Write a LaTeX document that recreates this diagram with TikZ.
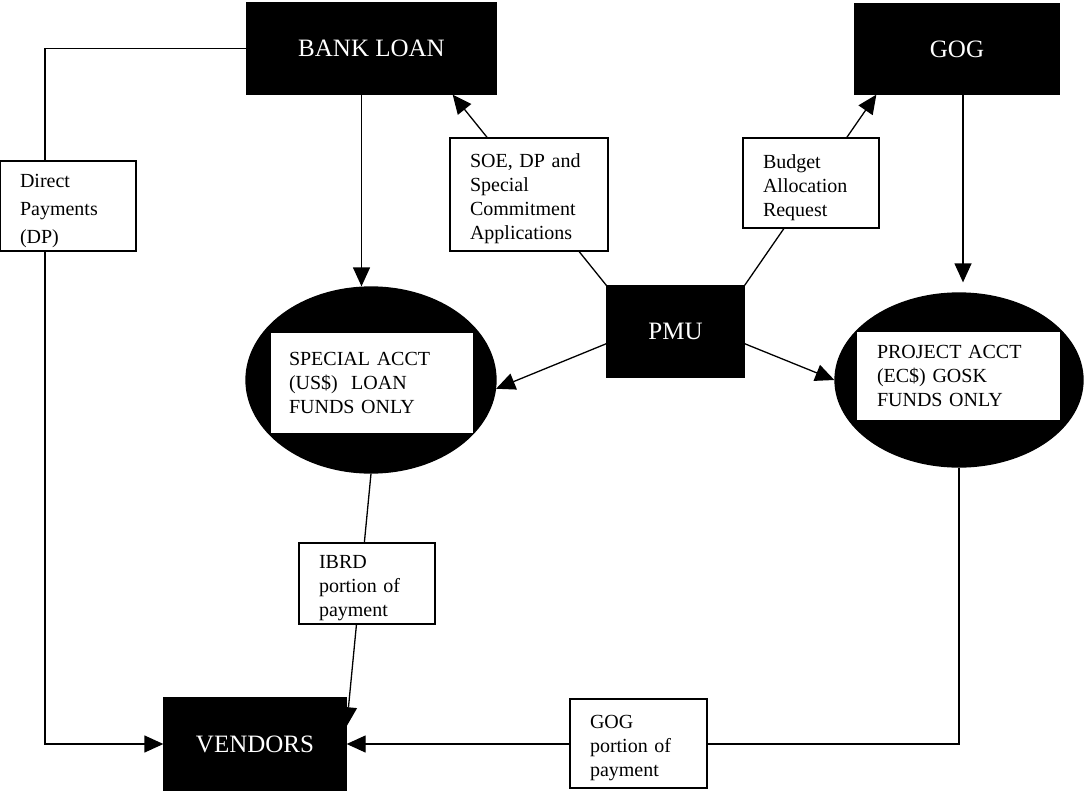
\documentclass[tikz,border=0pt]{standalone}
\usepackage{fontspec}
\setmainfont{Liberation Serif}
\usetikzlibrary{arrows.meta,shapes.geometric}

\tikzset{every picture/.style={line width=1.3pt}}
\tikzset{
  blackbox/.style={draw=black,fill=black,text=white,inner sep=0pt,font=\fontsize{25}{30}\selectfont},
  labelbox/.style={draw=black,fill=white,line width=1.5pt,align=left,inner xsep=20pt,inner ysep=0pt,
    font=\fontsize{20}{24}\selectfont,execute at begin node={\rule{0pt}{23pt}}},
  acctoval/.style={ellipse,draw=black,fill=black,inner sep=0pt},
  acctbox/.style={fill=white,align=left,inner xsep=18pt,inner ysep=0pt,font=\fontsize{20}{24}\selectfont},
  arr/.style={-{Triangle[length=19pt,width=17pt]}}
}

\begin{document}
\begin{tikzpicture}[x=1pt,y=1pt,yscale=-1,xscale=1]
\useasboundingbox (0,0) rectangle (1084,792);

%Shape: Rectangle [bank loan]
\node[blackbox, minimum width=249pt, minimum height=91pt] (bankloan) at (371.5,48.5) {BANK LOAN};
%Shape: Rectangle [gog]
\node[blackbox, minimum width=204pt, minimum height=90pt] (gog) at (957,49) {GOG};
%Shape: Rectangle [pmu]
\node[blackbox, minimum width=137pt, minimum height=91pt] (pmu) at (675.5,331.5) {PMU};
%Shape: Rectangle [vendors]
\node[blackbox, minimum width=182pt, minimum height=92pt] (vendors) at (255,744) {VENDORS};

%Shape: Ellipse [special account]
\node[acctoval, minimum width=250pt, minimum height=186pt] (spacct) at (371,380) {};
\node[acctbox, text width=166pt, minimum height=100pt] (spacctbox) at (372,383) {SPECIAL ACCT\\(US\$)\ \ LOAN\\FUNDS ONLY};
%Shape: Ellipse [project account]
\node[acctoval, minimum width=248pt, minimum height=174pt] (pjacct) at (959,380) {};
\node[acctbox, text width=163pt, inner xsep=20pt, minimum height=88pt] (pjacctbox) at (958.5,376) {PROJECT ACCT\\(EC\$) GOSK\\FUNDS ONLY};

%Straight Lines
\coordinate (dpcorner) at (45,48.5);
\draw[arr] (bankloan.west) -- (dpcorner) |- (vendors.west);
\draw[arr] ([xshift=-10pt]bankloan.south) -- ([xshift=-10pt]bankloan.south |- spacct.north);
\draw[arr] (pmu.north west) -- ([xshift=-44pt]bankloan.south east);
\draw[arr] (pmu.north east) -- ([xshift=22pt]gog.south west);
\draw[arr, shorten >=10pt] ([xshift=6pt]gog.south) -- ([xshift=6pt]gog.south |- pjacct.north);
\draw[arr] (pmu.190) -- (spacct.-4);
\draw[arr] (pmu.350) -- (pjacct.west);
\draw[arr] (spacct.south) -- (vendors.11);
\draw[arr] (pjacct.south) |- (vendors.east);

% Text Node
\node[labelbox, text width=96pt, minimum height=90pt, font=\fontsize{20}{28}\selectfont] (dp) at (68,206) {Direct\\Payments\\(DP)};
% Text Node
\node[labelbox, text width=118pt, minimum height=113pt] (soe) at (529,194.5) {SOE, DP and\\Special\\Commitment\\Applications};
% Text Node
\node[labelbox, text width=96pt, minimum height=90pt] (budget) at (811,183) {Budget\\Allocation\\Request};
% Text Node
\node[labelbox, text width=96pt, minimum height=81pt] (ibrd) at (367,583.5) {IBRD\\portion of\\payment};
% Text Node
\node[labelbox, text width=97pt, minimum height=89pt] (gogpay) at (638.5,743.5) {GOG\\portion of\\payment};

\end{tikzpicture}
\end{document}
